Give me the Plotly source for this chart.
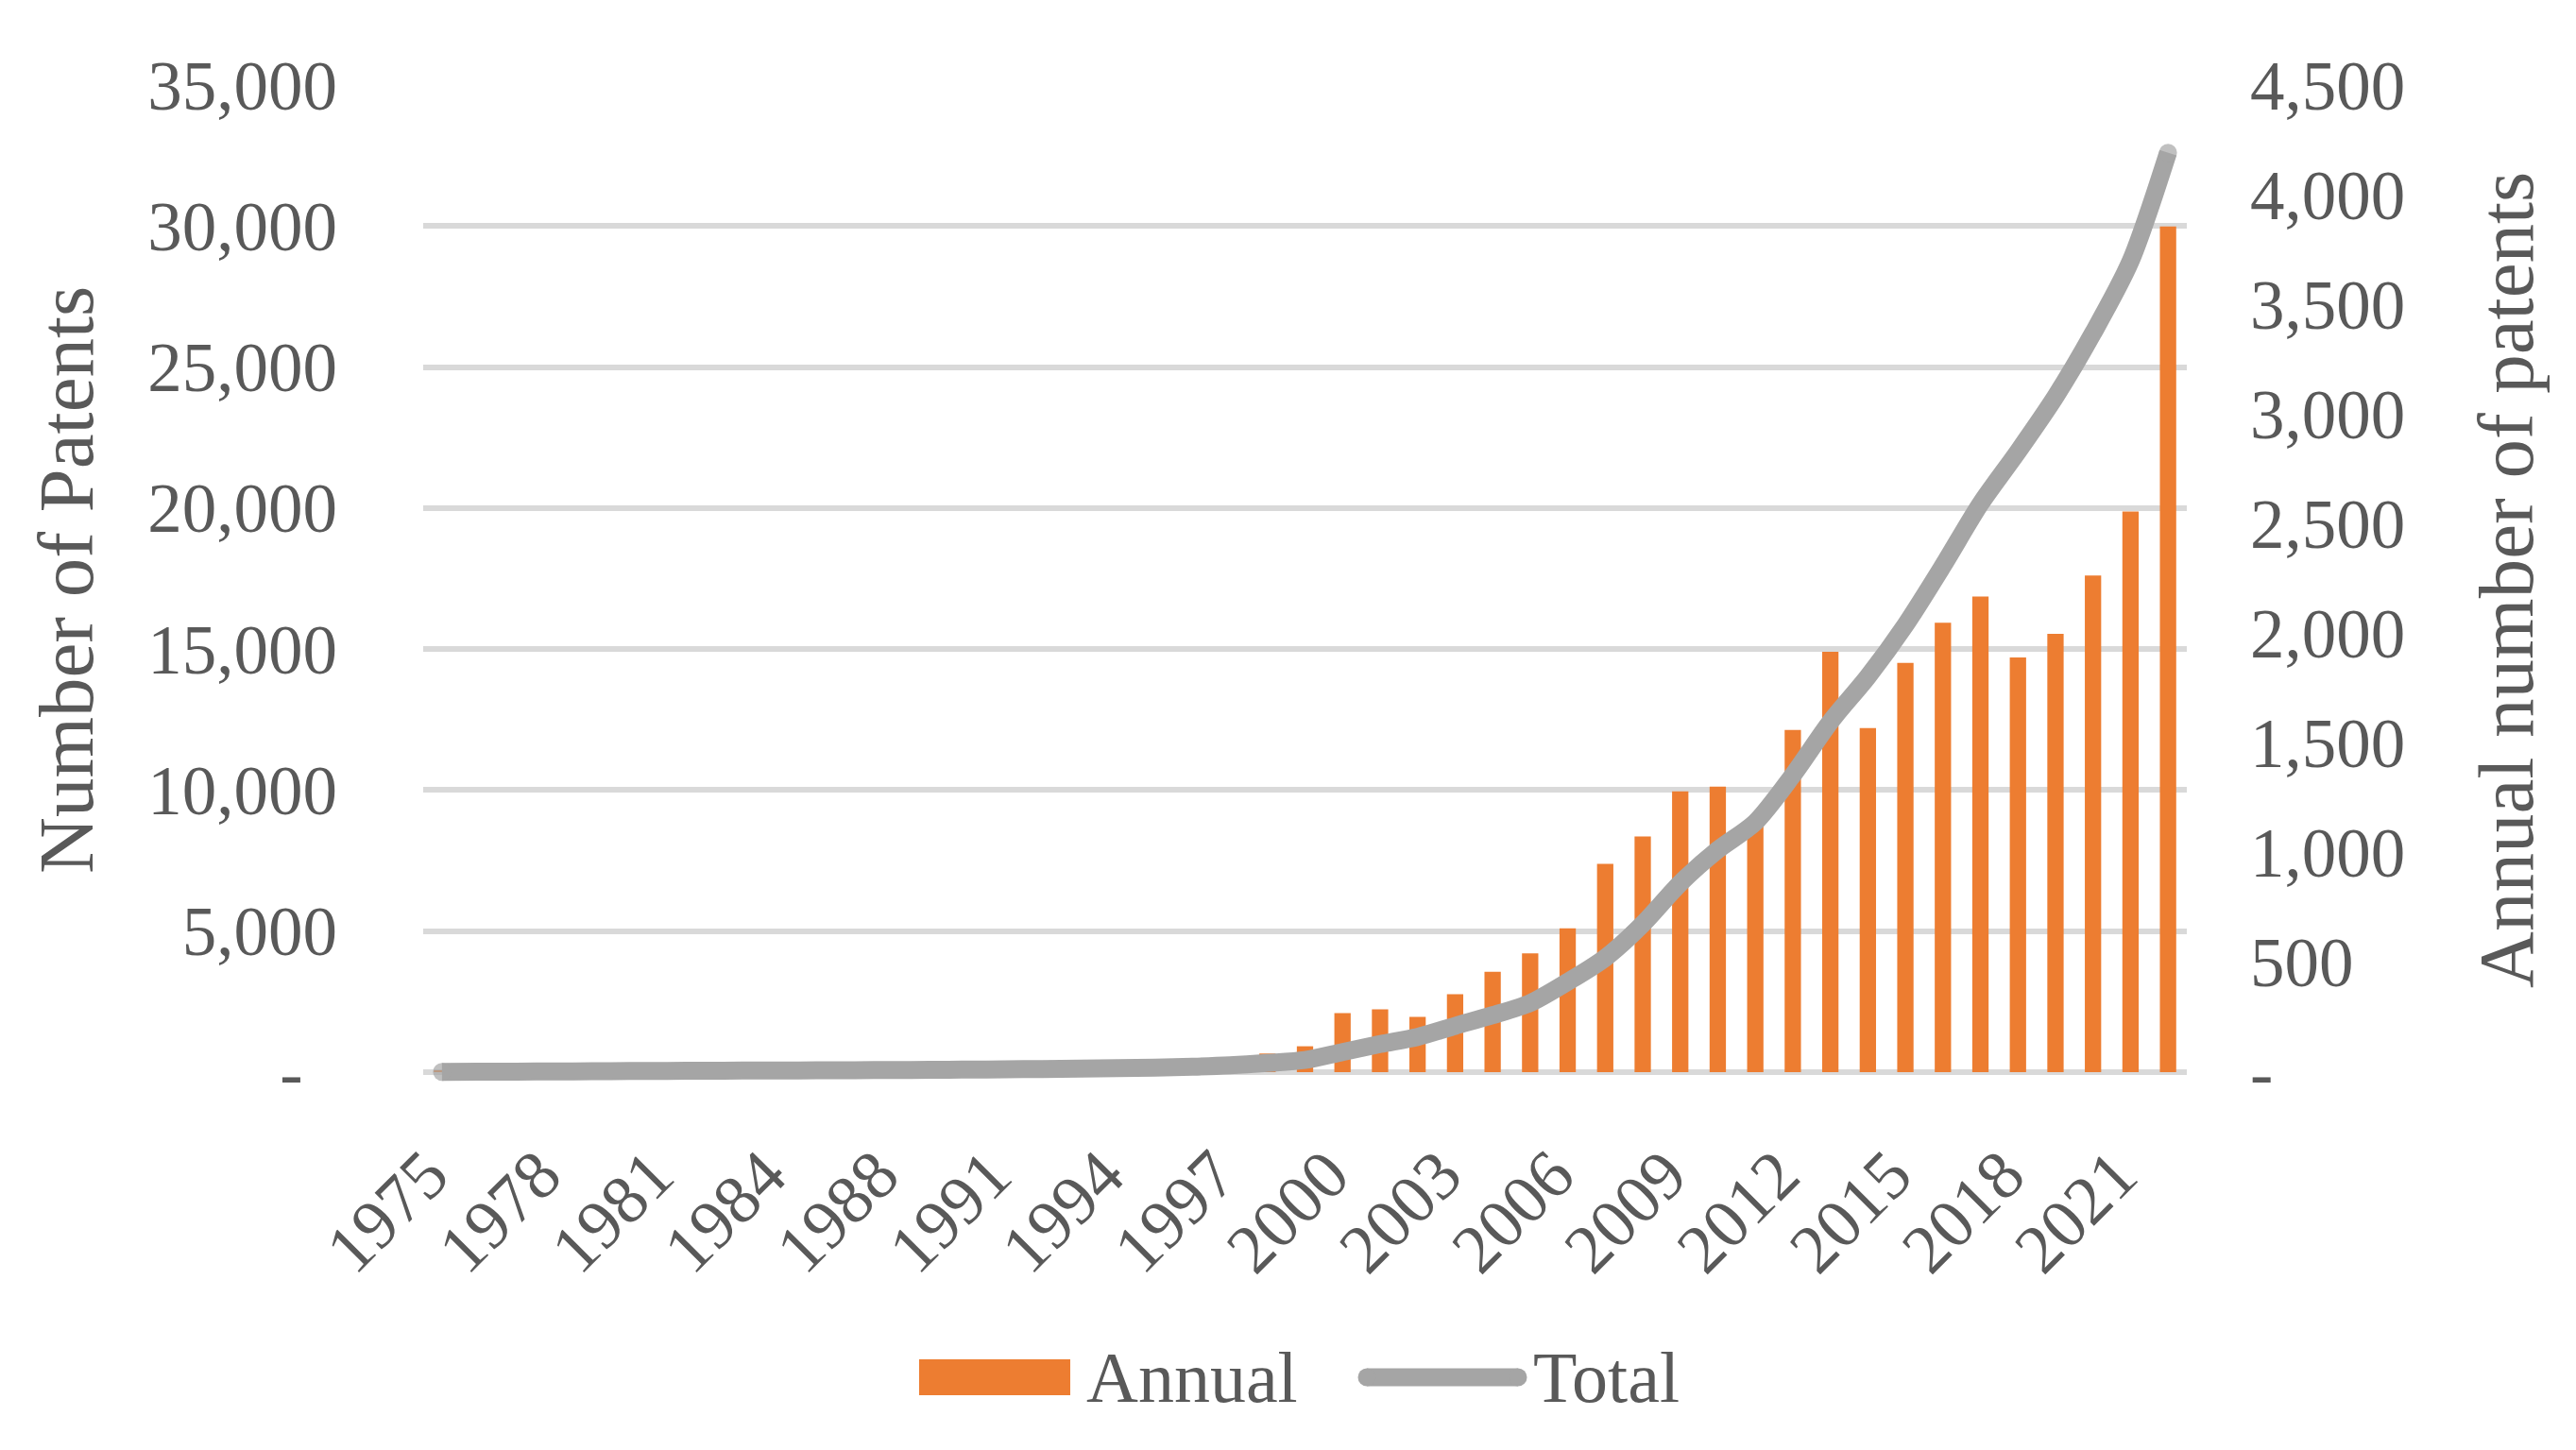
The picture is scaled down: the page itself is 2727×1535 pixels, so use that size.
import plotly.graph_objects as go

# ---------------- data ----------------
years = ["1975", "1976", "1977", "1978", "1979", "1980", "1981", "1982", "1983", "1984",
         "1985", "1986", "1988", "1989", "1990", "1991", "1992", "1993", "1994", "1995",
         "1996", "1997", "1998", "1999", "2000", "2001", "2002", "2003", "2004", "2005",
         "2006", "2007", "2008", "2009", "2010", "2011", "2012", "2013", "2014", "2015",
         "2016", "2017", "2018", "2019", "2020", "2021", "2022"]

annual = [8, 5, 5, 6, 6, 9, 5, 5, 5, 6,
          5, 6, 5, 6, 9, 10, 10, 14, 16, 20,
          30, 50, 85, 118, 269, 286, 252, 355, 458, 541,
          656, 950, 1074, 1280, 1302, 1150, 1560, 1916, 1569, 1866,
          2049, 2168, 1890, 1998, 2264, 2556, 3855]

total = [10, 15, 20, 25, 30, 40, 45, 50, 55, 60,
         65, 70, 75, 80, 90, 100, 110, 125, 140, 160,
         190, 240, 324, 430, 710, 994, 1250, 1640, 2020, 2450,
         3200, 4050, 5250, 6700, 7880, 8860, 10530, 12420, 14020, 15850,
         17950, 20150, 22000, 23950, 26200, 28750, 32600]

x_tick_labels = ["1975", "1978", "1981", "1984", "1988", "1991", "1994", "1997",
                 "2000", "2003", "2006", "2009", "2012", "2015", "2018", "2021"]

left_tick_values = [0, 5000, 10000, 15000, 20000, 25000, 30000, 35000]
left_tick_labels = ["-\u00a0\u00a0", "5,000", "10,000", "15,000", "20,000",
                    "25,000", "30,000", "35,000"]

right_tick_values = [0, 500, 1000, 1500, 2000, 2500, 3000, 3500, 4000, 4500]
right_tick_labels = ["-", "500", "1,000", "1,500", "2,000", "2,500",
                     "3,000", "3,500", "4,000", "4,500"]

LEFT_MAX, RIGHT_MAX = 35000, 4500

# ---------------- style / geometry ----------------
W, H = 2727, 1535
X0, X1 = 440, 2307          # plot area left/right (px)
Y_TOP, Y_ZERO = 82, 1127    # pixel rows of the max and zero gridlines
PAD = 16                    # extra room below zero so the thick line is not clipped
L, R, T, B = X0, W - X1, Y_TOP, H - (Y_ZERO + PAD)
PW, PH = W - L - R, H - T - B

# value ranges extended below zero by PAD pixels
left_lo = -PAD * LEFT_MAX / (Y_ZERO - Y_TOP)
right_lo = -PAD * RIGHT_MAX / (Y_ZERO - Y_TOP)

FONT = "Liberation Serif"
TXT = "#595959"
ORANGE = "#ED7D31"
GREY = "#A5A5A5"
GRID = "#D9D9D9"
LINE_W = 19


def px(xp):
    return (xp - L) / PW


def py(yp):
    return (H - B - yp) / PH


fig = go.Figure()

# invisible anchor trace so the base (gridline) subplot is built
fig.add_trace(go.Scatter(
    x=[years[0]], y=[0], mode="markers", marker=dict(opacity=0, size=1),
    hoverinfo="skip", showlegend=False,
))

fig.add_trace(go.Bar(
    x=years, y=annual, name="Annual", yaxis="y2",
    marker=dict(color=ORANGE, line=dict(width=0)),
))

n = len(total)
fig.add_trace(go.Scatter(
    x=years, y=total, name="Total", yaxis="y3", mode="lines+markers",
    line=dict(color=GREY, width=LINE_W, shape="spline", smoothing=0.8),
    marker=dict(color=GREY, size=[LINE_W if i in (0, n - 1) else 0 for i in range(n)],
                line=dict(width=0)),
))

tickfont = dict(family=FONT, size=73, color=TXT)

fig.update_layout(
    width=W, height=H,
    margin=dict(l=L, r=R, t=T, b=B, autoexpand=False),
    paper_bgcolor="white", plot_bgcolor="white",
    showlegend=False,
    bargap=0.565,
    font=dict(family=FONT, color=TXT),
    xaxis=dict(
        type="category", range=[-0.5, len(years) - 0.5],
        tickmode="array", tickvals=x_tick_labels, ticktext=x_tick_labels,
        tickangle=-45, tickfont=tickfont, showgrid=False, zeroline=False,
        showline=False, ticks="", automargin=False,
        ticklabelstandoff=34, ticklabelshift=-15,
    ),
    yaxis=dict(
        range=[left_lo, LEFT_MAX], tickmode="array", tickvals=left_tick_values,
        ticktext=left_tick_labels, tickfont=tickfont, showgrid=True,
        gridcolor=GRID, gridwidth=6, zeroline=False, showline=False, ticks="",
        ticklabelstandoff=90, automargin=False,
    ),
    yaxis2=dict(
        overlaying="y", side="right", range=[right_lo, RIGHT_MAX], tickmode="array",
        tickvals=right_tick_values, ticktext=right_tick_labels, tickfont=tickfont,
        showgrid=False, zeroline=False, showline=False, ticks="",
        ticklabelstandoff=66, automargin=False,
    ),
    yaxis3=dict(
        overlaying="y", side="left", range=[left_lo, LEFT_MAX], showgrid=False,
        zeroline=False, showline=False, showticklabels=False, ticks="",
        automargin=False,
    ),
)

# axis titles
fig.add_annotation(text="Number of Patents", xref="paper", yref="paper",
                   x=px(62), y=py(606), xanchor="center", yanchor="middle",
                   textangle=-90, showarrow=False,
                   font=dict(family=FONT, size=83, color=TXT))
fig.add_annotation(text="Annual number of patents", xref="paper", yref="paper",
                   x=px(2645), y=py(606), xanchor="center", yanchor="middle",
                   textangle=-90, showarrow=False,
                   font=dict(family=FONT, size=83, color=TXT))

# custom legend
legend_font = dict(family=FONT, size=76, color=TXT)
LY = 1450
fig.add_shape(type="rect", xref="paper", yref="paper",
              x0=px(965), x1=px(1125), y0=py(LY - 19), y1=py(LY + 19),
              fillcolor=ORANGE, line=dict(width=0))
fig.add_annotation(text="Annual", xref="paper", yref="paper",
                   x=px(1140), y=py(LY), xanchor="left", yanchor="middle",
                   showarrow=False, font=legend_font)
fig.add_shape(type="line", xref="paper", yref="paper",
              x0=px(1439), x1=px(1599), y0=py(LY), y1=py(LY),
              line=dict(color=GREY, width=LINE_W))
for cx in (1439, 1599):
    r = LINE_W / 2
    fig.add_shape(type="circle", xref="paper", yref="paper",
                  x0=px(cx - r), x1=px(cx + r), y0=py(LY - r), y1=py(LY + r),
                  fillcolor=GREY, line=dict(width=0))
fig.add_annotation(text="Total", xref="paper", yref="paper",
                   x=px(1613), y=py(LY), xanchor="left", yanchor="middle",
                   showarrow=False, font=legend_font)

fig.write_html("out.html")
